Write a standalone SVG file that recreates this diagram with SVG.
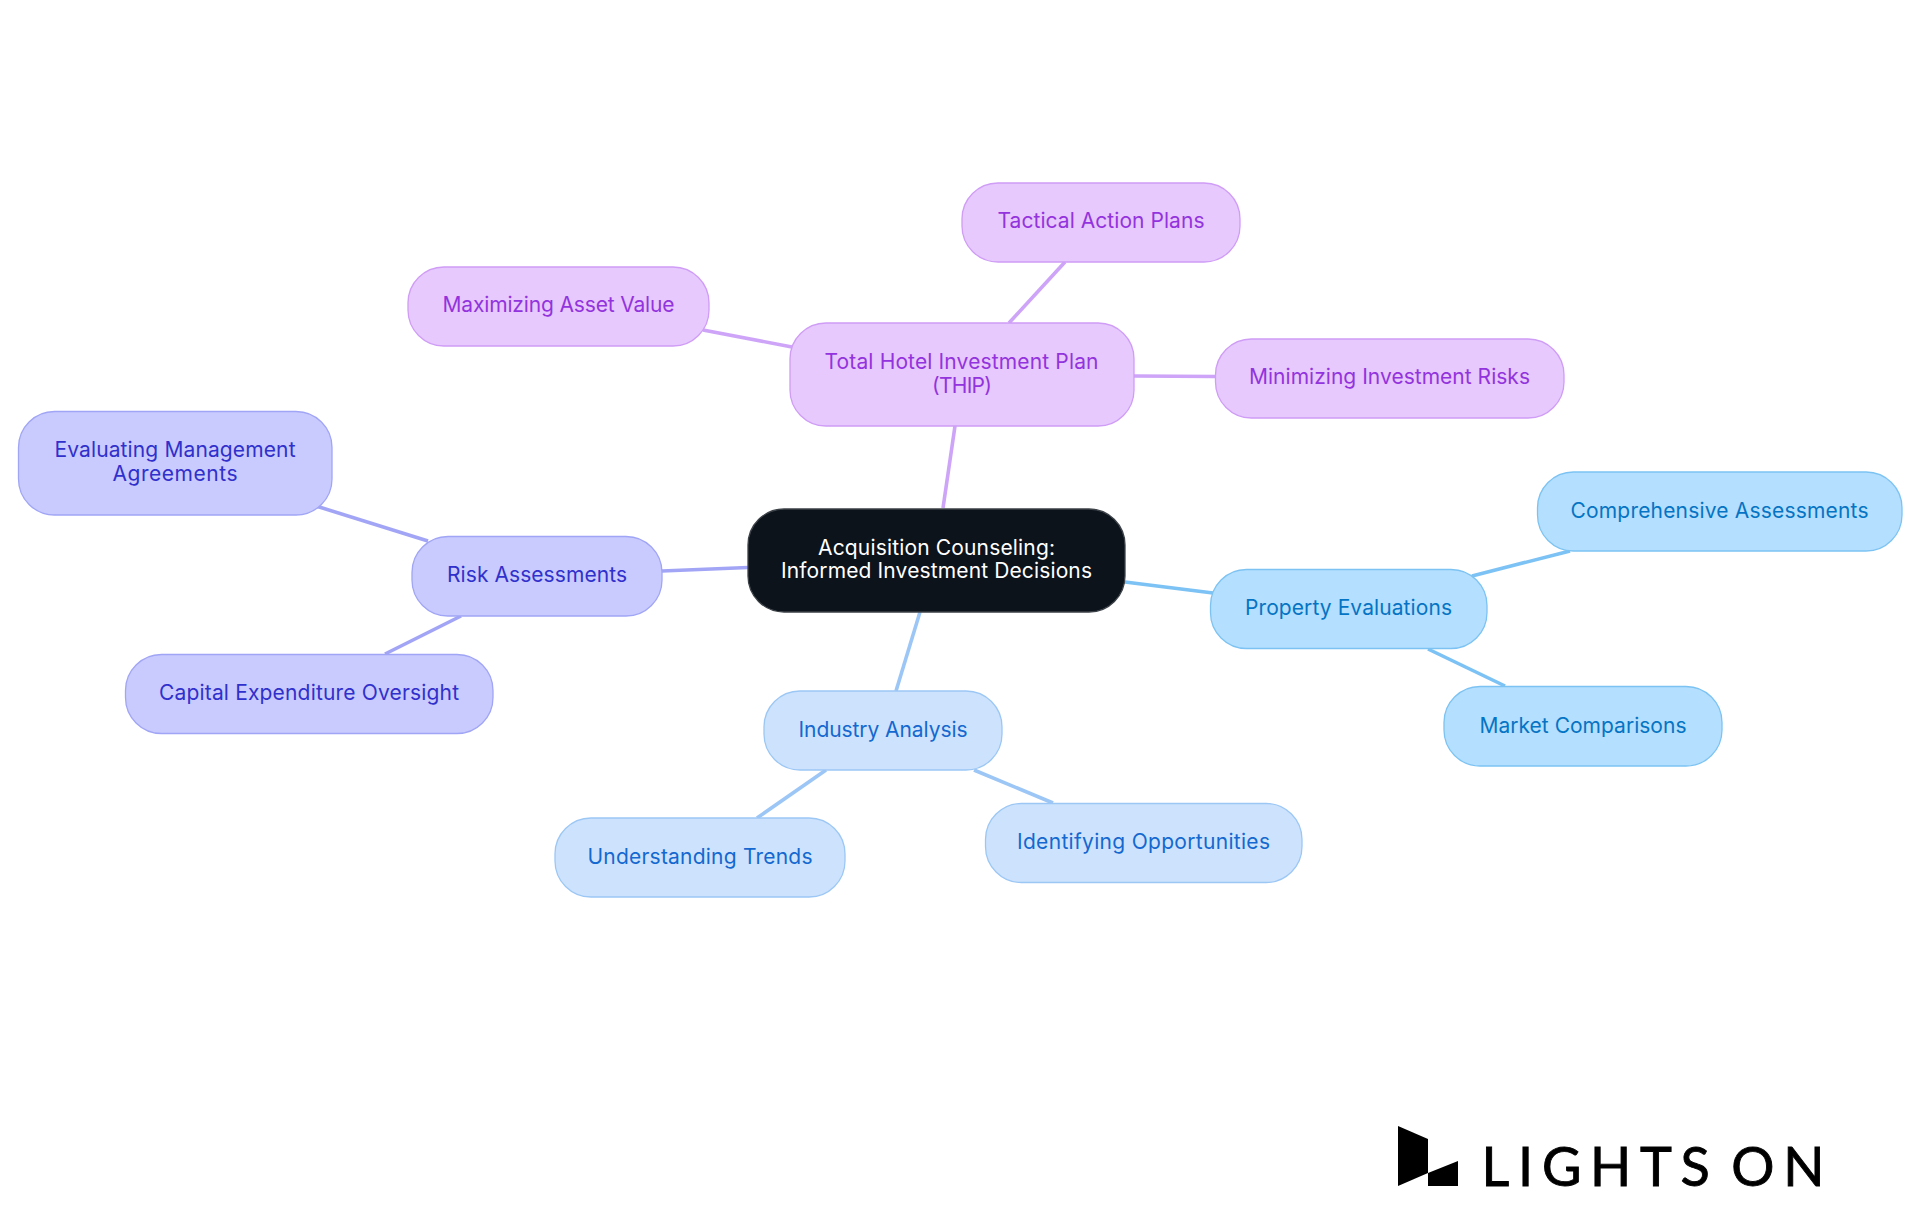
<svg xmlns="http://www.w3.org/2000/svg" width="1920" height="1215" viewBox="0 0 1920 1215">
<style>
text{font-family:"Inter","Noto Sans","Liberation Sans",sans-serif;font-size:21px;font-weight:400;text-anchor:middle}
.c{fill:none;stroke-width:3.6}
rect{stroke-width:1.3}
.a rect{fill:#e7c9fe;stroke:#cf9cf6}.a text{fill:#9333dd}
.p{stroke:#cda4f8}
.b rect{fill:#c9cbfe;stroke:#a0a5f5}.b text{fill:#3030cc}
.q{stroke:#a2a5f5}
.d rect{fill:#cde3fd;stroke:#9cc7f5}.d text{fill:#1468d0}
.r{stroke:#9cc6f5}
.e rect{fill:#b5dffe;stroke:#7cc3f3}.e text{fill:#0574c4}
.s{stroke:#7cc2f4}
.l{font-family:Lato,"Liberation Sans",sans-serif;font-size:54px;font-weight:400;text-anchor:start;fill:#000;stroke:#000;stroke-width:.9;word-spacing:-10px}
</style>
<rect width="1920" height="1215" fill="#fff" stroke="none"/>
<g id="connectors">
<path class="c p" d="M943 508L955 426"/><path class="c p" d="M1009 323L1065 262"/><path class="c p" d="M792 347L703 330"/><path class="c p" d="M1134 376L1215 376.500"/>
<path class="c q" d="M748 567.500L662 571"/><path class="c q" d="M428 541L316 506"/><path class="c q" d="M461 616L385 654"/>
<path class="c r" d="M920 612L896 691"/><path class="c r" d="M826 770L757 818"/><path class="c r" d="M974 770L1053 803"/>
<path class="c s" d="M1125 582L1213 593"/><path class="c s" d="M1472 576L1570 551"/><path class="c s" d="M1428 649L1505 686"/>
</g>
<g id="root"><rect x="748" y="509" width="377" height="103" rx="36" fill="#0c131b" stroke="#3c4248"/><text x="936.500" y="555" fill="#fff" textLength="237">Acquisition Counseling:</text><text x="936.500" y="578" fill="#fff" textLength="311">Informed Investment Decisions</text></g>
<g id="thip" class="a"><rect x="790" y="323" width="344" height="103" rx="36"/><text x="961.500" y="369" textLength="274">Total Hotel Investment Plan</text><text x="962" y="392.500" textLength="60">(THIP)</text></g>
<g id="tactical" class="a"><rect x="962" y="183" width="278" height="79" rx="36"/><text x="1101" y="228" textLength="207">Tactical Action Plans</text></g>
<g id="maximizing" class="a"><rect x="408" y="267" width="301" height="79" rx="36"/><text x="558.500" y="312" textLength="232">Maximizing Asset Value</text></g>
<g id="minimizing" class="a"><rect x="1215.500" y="339" width="348.500" height="79" rx="36"/><text x="1389.500" y="384" textLength="281">Minimizing Investment Risks</text></g>
<g id="risk" class="b"><rect x="412" y="536.500" width="250" height="79.500" rx="36"/><text x="537" y="582" textLength="180">Risk Assessments</text></g>
<g id="evaluating" class="b"><rect x="18.500" y="411.500" width="313.500" height="103.500" rx="36"/><text x="175" y="457" textLength="241">Evaluating Management</text><text x="175" y="481" textLength="125">Agreements</text></g>
<g id="capital" class="b"><rect x="125.500" y="654.500" width="367.500" height="79" rx="36"/><text x="309" y="700" textLength="300">Capital Expenditure Oversight</text></g>
<g id="industry" class="d"><rect x="764" y="691" width="238" height="79" rx="36"/><text x="883" y="737" textLength="169">Industry Analysis</text></g>
<g id="understanding" class="d"><rect x="555" y="818" width="290" height="79" rx="36"/><text x="700" y="864" textLength="225">Understanding Trends</text></g>
<g id="identifying" class="d"><rect x="985.500" y="803.500" width="316.500" height="79" rx="36"/><text x="1143.500" y="849" textLength="253">Identifying Opportunities</text></g>
<g id="property" class="e"><rect x="1210.500" y="569.500" width="276.500" height="79" rx="36"/><text x="1348.500" y="615" textLength="207">Property Evaluations</text></g>
<g id="comprehensive" class="e"><rect x="1537.500" y="472" width="364.500" height="79" rx="36"/><text x="1719.500" y="518" textLength="298">Comprehensive Assessments</text></g>
<g id="market" class="e"><rect x="1444" y="686.500" width="278" height="79.500" rx="36"/><text x="1583" y="732.500" textLength="207">Market Comparisons</text></g>
<g id="logo"><polygon points="1398,1126 1428,1139 1428,1173 1398,1186" fill="#000"/><polygon points="1428,1173 1458,1161 1458,1186 1428,1186" fill="#000"/><text class="l" x="1481.500" y="1186" textLength="343">LIGHTS ON</text></g>
</svg>
